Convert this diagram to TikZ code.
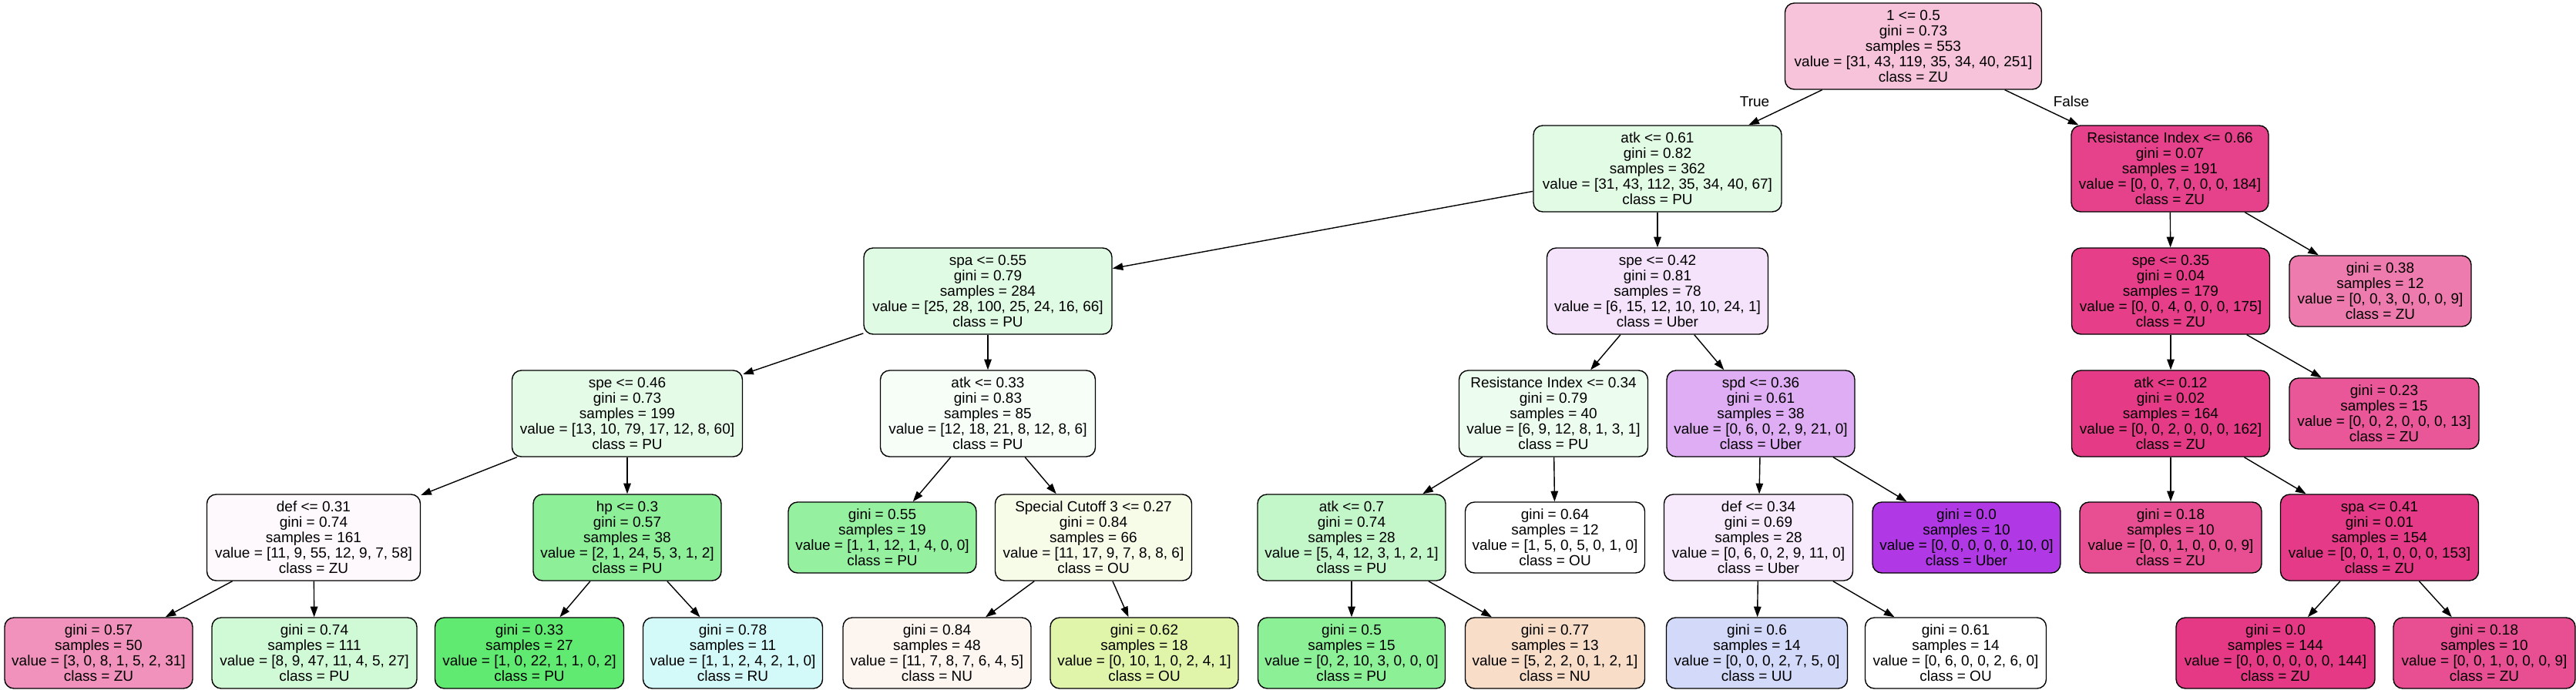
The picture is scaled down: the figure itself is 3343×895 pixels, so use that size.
\documentclass[tikz,border=0pt]{standalone}
\usepackage{fontspec}
\usetikzlibrary{arrows.meta}
\newfontfamily\treefont{Liberation Sans}
\definecolor{NUc}{RGB}{229,129,57}
\definecolor{OUc}{RGB}{183,229,57}
\definecolor{PUc}{RGB}{57,229,77}
\definecolor{RUc}{RGB}{57,229,226}
\definecolor{UUc}{RGB}{57,86,229}
\definecolor{Uberc}{RGB}{177,57,229}
\definecolor{ZUc}{RGB}{229,57,134}
\tikzset{
  nd/.style={draw=black, line width=1.4pt, rounded corners=12pt, align=center,
    inner sep=0pt, font={\treefont\fontsize{19}{20}\selectfont}, minimum height=112pt},
  lf/.style={nd, minimum height=92pt},
  conn/.style={line width=1.4pt, -{Triangle[length=13.6pt,width=9.5pt]}},
  lbl/.style={font={\treefont\fontsize{19}{20}\selectfont}, inner sep=0pt}
}
\begin{document}
\begin{tikzpicture}[x=1pt,y=-1pt]
\useasboundingbox (0,0) rectangle (3343,895);
% rank 0
\node[nd, fill=ZUc!30.4!white, minimum width=333pt] (n0) at (2483,60) {1 <= 0.5\\gini = 0.73\\samples = 553\\value = [31, 43, 119, 35, 34, 40, 251]\\class = ZU};
% rank 1
\node[nd, fill=PUc!15.3!white, minimum width=322pt] (n1) at (2151,219) {atk <= 0.61\\gini = 0.82\\samples = 362\\value = [31, 43, 112, 35, 34, 40, 67]\\class = PU};
\node[nd, fill=ZUc!96.2!white, minimum width=256pt] (n2) at (2816,219) {Resistance Index <= 0.66\\gini = 0.07\\samples = 191\\value = [0, 0, 7, 0, 0, 0, 184]\\class = ZU};
% rank 2
\node[nd, fill=PUc!15.6!white, minimum width=322pt] (n3) at (1282,378) {spa <= 0.55\\gini = 0.79\\samples = 284\\value = [25, 28, 100, 25, 24, 16, 66]\\class = PU};
\node[nd, fill=Uberc!14.3!white, minimum width=287pt] (n4) at (2151,378) {spe <= 0.42\\gini = 0.81\\samples = 78\\value = [6, 15, 12, 10, 10, 24, 1]\\class = Uber};
\node[nd, fill=ZUc!97.7!white, minimum width=257pt] (n5) at (2817,378) {spe <= 0.35\\gini = 0.04\\samples = 179\\value = [0, 0, 4, 0, 0, 0, 175]\\class = ZU};
\node[lf, fill=ZUc!66.7!white, minimum width=236pt] (n6) at (3089,378) {gini = 0.38\\samples = 12\\value = [0, 0, 3, 0, 0, 0, 9]\\class = ZU};
% rank 3
\node[nd, fill=PUc!13.7!white, minimum width=299pt] (n7) at (814,537) {spe <= 0.46\\gini = 0.73\\samples = 199\\value = [13, 10, 79, 17, 12, 8, 60]\\class = PU};
\node[nd, fill=PUc!4.5!white, minimum width=279pt] (n8) at (1282,537) {atk <= 0.33\\gini = 0.83\\samples = 85\\value = [12, 18, 21, 8, 12, 8, 6]\\class = PU};
\node[nd, fill=PUc!9.7!white, minimum width=245pt] (n9) at (2016,537) {Resistance Index <= 0.34\\gini = 0.79\\samples = 40\\value = [6, 9, 12, 8, 1, 3, 1]\\class = PU};
\node[nd, fill=Uberc!41.4!white, minimum width=244pt] (n10) at (2285,537) {spd <= 0.36\\gini = 0.61\\samples = 38\\value = [0, 6, 0, 2, 9, 21, 0]\\class = Uber};
\node[nd, fill=ZUc!98.8!white, minimum width=257pt] (n11) at (2817,537) {atk <= 0.12\\gini = 0.02\\samples = 164\\value = [0, 0, 2, 0, 0, 0, 162]\\class = ZU};
\node[lf, fill=ZUc!84.6!white, minimum width=246pt] (n12) at (3094,537) {gini = 0.23\\samples = 15\\value = [0, 0, 2, 0, 0, 0, 13]\\class = ZU};
% rank 4
\node[nd, fill=ZUc!2.8!white, minimum width=277pt] (n13) at (407,698) {def <= 0.31\\gini = 0.74\\samples = 161\\value = [11, 9, 55, 12, 9, 7, 58]\\class = ZU};
\node[nd, fill=PUc!57.6!white, minimum width=244pt] (n14) at (814,698) {hp <= 0.3\\gini = 0.57\\samples = 38\\value = [2, 1, 24, 5, 3, 1, 2]\\class = PU};
\node[lf, fill=PUc!53.3!white, minimum width=244pt] (n15) at (1145,698) {gini = 0.55\\samples = 19\\value = [1, 1, 12, 1, 4, 0, 0]\\class = PU};
\node[nd, fill=OUc!10.9!white, minimum width=255pt] (n16) at (1419,698) {Special Cutoff 3 <= 0.27\\gini = 0.84\\samples = 66\\value = [11, 17, 9, 7, 8, 8, 6]\\class = OU};
\node[nd, fill=PUc!30.4!white, minimum width=244pt] (n17) at (1754,698) {atk <= 0.7\\gini = 0.74\\samples = 28\\value = [5, 4, 12, 3, 1, 2, 1]\\class = PU};
\node[lf, fill=white, minimum width=233pt] (n18) at (2018,698) {gini = 0.64\\samples = 12\\value = [1, 5, 0, 5, 0, 1, 0]\\class = OU};
\node[nd, fill=Uberc!10.5!white, minimum width=245pt] (n19) at (2282,698) {def <= 0.34\\gini = 0.69\\samples = 28\\value = [0, 6, 0, 2, 9, 11, 0]\\class = Uber};
\node[lf, fill=Uberc, minimum width=244pt] (n20) at (2552,698) {gini = 0.0\\samples = 10\\value = [0, 0, 0, 0, 0, 10, 0]\\class = Uber};
\node[lf, fill=ZUc!88.9!white, minimum width=236pt] (n21) at (2817,698) {gini = 0.18\\samples = 10\\value = [0, 0, 1, 0, 0, 0, 9]\\class = ZU};
\node[nd, fill=ZUc!99.3!white, minimum width=257pt] (n22) at (3088,698) {spa <= 0.41\\gini = 0.01\\samples = 154\\value = [0, 0, 1, 0, 0, 0, 153]\\class = ZU};
% rank 5
\node[lf, fill=ZUc!54.8!white, minimum width=244pt] (n23) at (128,848) {gini = 0.57\\samples = 50\\value = [3, 0, 8, 1, 5, 2, 31]\\class = ZU};
\node[lf, fill=PUc!23.8!white, minimum width=266pt] (n24) at (408,848) {gini = 0.74\\samples = 111\\value = [8, 9, 47, 11, 4, 5, 27]\\class = PU};
\node[lf, fill=PUc!80!white, minimum width=245pt] (n25) at (687,848) {gini = 0.33\\samples = 27\\value = [1, 0, 22, 1, 1, 0, 2]\\class = PU};
\node[lf, fill=RUc!22.2!white, minimum width=233pt] (n26) at (951,848) {gini = 0.78\\samples = 11\\value = [1, 1, 2, 4, 2, 1, 0]\\class = RU};
\node[lf, fill=NUc!7.5!white, minimum width=244pt] (n27) at (1216,848) {gini = 0.84\\samples = 48\\value = [11, 7, 8, 7, 6, 4, 5]\\class = NU};
\node[lf, fill=OUc!42.9!white, minimum width=244pt] (n28) at (1485,848) {gini = 0.62\\samples = 18\\value = [0, 10, 1, 0, 2, 4, 1]\\class = OU};
\node[lf, fill=PUc!58.3!white, minimum width=243pt] (n29) at (1754,848) {gini = 0.5\\samples = 15\\value = [0, 2, 10, 3, 0, 0, 0]\\class = PU};
\node[lf, fill=NUc!27.3!white, minimum width=233pt] (n30) at (2018,848) {gini = 0.77\\samples = 13\\value = [5, 2, 2, 0, 1, 2, 1]\\class = NU};
\node[lf, fill=UUc!22.2!white, minimum width=235pt] (n31) at (2280,848) {gini = 0.6\\samples = 14\\value = [0, 0, 0, 2, 7, 5, 0]\\class = UU};
\node[lf, fill=white, minimum width=235pt] (n32) at (2538,848) {gini = 0.61\\samples = 14\\value = [0, 6, 0, 0, 2, 6, 0]\\class = OU};
\node[lf, fill=ZUc, minimum width=258pt] (n33) at (2953,848) {gini = 0.0\\samples = 144\\value = [0, 0, 0, 0, 0, 0, 144]\\class = ZU};
\node[lf, fill=ZUc!88.9!white, minimum width=236pt] (n34) at (3224,848) {gini = 0.18\\samples = 10\\value = [0, 0, 1, 0, 0, 0, 9]\\class = ZU};
% edges
\draw[conn] (n0) -- (n1);
\draw[conn] (n0) -- (n2);
\draw[conn] (n1) -- (n3);
\draw[conn] (n1) -- (n4);
\draw[conn] (n2) -- (n5);
\draw[conn] (n2) -- (n6);
\draw[conn] (n3) -- (n7);
\draw[conn] (n3) -- (n8);
\draw[conn] (n4) -- (n9);
\draw[conn] (n4) -- (n10);
\draw[conn] (n5) -- (n11);
\draw[conn] (n5) -- (n12);
\draw[conn] (n7) -- (n13);
\draw[conn] (n7) -- (n14);
\draw[conn] (n8) -- (n15);
\draw[conn] (n8) -- (n16);
\draw[conn] (n9) -- (n17);
\draw[conn] (n9) -- (n18);
\draw[conn] (n10) -- (n19);
\draw[conn] (n10) -- (n20);
\draw[conn] (n11) -- (n21);
\draw[conn] (n11) -- (n22);
\draw[conn] (n13) -- (n23);
\draw[conn] (n13) -- (n24);
\draw[conn] (n14) -- (n25);
\draw[conn] (n14) -- (n26);
\draw[conn] (n16) -- (n27);
\draw[conn] (n16) -- (n28);
\draw[conn] (n17) -- (n29);
\draw[conn] (n17) -- (n30);
\draw[conn] (n19) -- (n31);
\draw[conn] (n19) -- (n32);
\draw[conn] (n22) -- (n33);
\draw[conn] (n22) -- (n34);
% labels
\node[lbl] (tl) at (2277,132) {True};
\node[lbl] (fl) at (2688,132) {False};
\end{tikzpicture}
\end{document}
